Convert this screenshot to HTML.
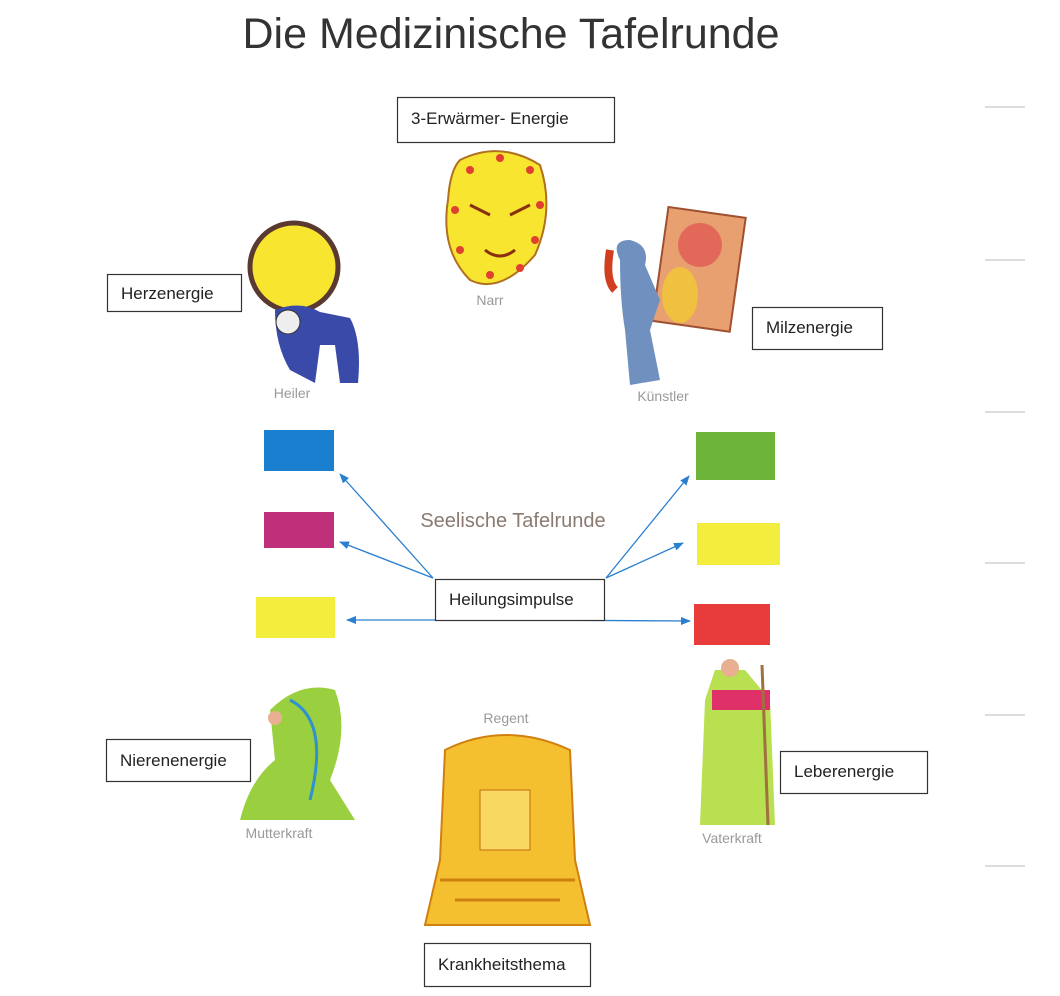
<!DOCTYPE html>
<html><head><meta charset="utf-8"><style>
body{margin:0;background:#fff;}
svg{display:block}
</style></head><body>
<svg width="1060" height="996" viewBox="0 0 1060 996" xmlns="http://www.w3.org/2000/svg" font-family="Liberation Sans, sans-serif">
<rect width="1060" height="996" fill="#fff"/>
<text x="511" y="48" text-anchor="middle" font-size="43" fill="#333">Die Medizinische Tafelrunde</text>
<g stroke="#bbb" stroke-width="1">
<line x1="985" y1="107" x2="1025" y2="107"/><line x1="985" y1="260" x2="1025" y2="260"/>
<line x1="985" y1="412" x2="1025" y2="412"/><line x1="985" y1="563" x2="1025" y2="563"/>
<line x1="985" y1="715" x2="1025" y2="715"/><line x1="985" y1="866" x2="1025" y2="866"/>
</g>
<!-- Narr mask -->
<path d="M460 160 Q500 140 540 165 Q555 210 535 255 Q500 295 470 280 Q440 250 448 200 Q450 170 460 160Z" fill="#f7e530" stroke="#b07020" stroke-width="2"/>
<g fill="#e04030"><circle cx="470" cy="170" r="4"/><circle cx="500" cy="158" r="4"/><circle cx="530" cy="170" r="4"/><circle cx="540" cy="205" r="4"/><circle cx="535" cy="240" r="4"/><circle cx="455" cy="210" r="4"/><circle cx="460" cy="250" r="4"/><circle cx="490" cy="275" r="4"/><circle cx="520" cy="268" r="4"/></g>
<path d="M470 205 L490 215 M510 215 L530 205 M485 250 Q500 262 515 250" stroke="#8a3010" stroke-width="3" fill="none"/>
<text x="490" y="305" text-anchor="middle" font-size="14" fill="#999">Narr</text>
<!-- Heiler -->
<circle cx="294" cy="267" r="44" fill="#f7e530" stroke="#5a3a30" stroke-width="5"/>
<path d="M275 310 Q300 300 320 312 L350 318 Q362 340 358 383 L340 383 L335 345 L320 345 L315 383 L290 370 Q275 345 275 310Z" fill="#3a4aa8"/>
<circle cx="288" cy="322" r="12" fill="#eee" stroke="#333"/>
<text x="292" y="398" text-anchor="middle" font-size="14" fill="#999">Heiler</text>
<!-- Künstler -->
<rect x="660" y="212" width="78" height="115" fill="#e8a070" stroke="#a05030" stroke-width="2" transform="rotate(8 700 270)"/>
<circle cx="700" cy="245" r="22" fill="#e05050" opacity="0.7"/>
<ellipse cx="680" cy="295" rx="18" ry="28" fill="#f0c040"/>
<path d="M620 260 Q610 240 630 240 Q650 245 645 265 L660 300 L650 330 L660 380 L630 385 L625 330 Q620 300 620 260Z" fill="#7090c0"/>
<path d="M610 250 Q605 280 615 290" stroke="#d04020" stroke-width="8" fill="none"/>
<text x="663" y="401" text-anchor="middle" font-size="14" fill="#999">Künstler</text>
<!-- color rects -->
<rect x="264" y="430" width="70" height="41" fill="#1b7fd0"/>
<rect x="264" y="512" width="70" height="36" fill="#c0307a"/>
<rect x="256" y="597" width="79" height="41" fill="#f3ee3e"/>
<rect x="696" y="432" width="79" height="48" fill="#6cb43a"/>
<rect x="697" y="523" width="83" height="42" fill="#f3ee3e"/>
<rect x="694" y="604" width="76" height="41" fill="#e83c3c"/>
<text x="513" y="527" text-anchor="middle" font-size="20" fill="#8a7a70">Seelische Tafelrunde</text>
<!-- arrows -->
<defs><marker id="a" markerWidth="10" markerHeight="10" refX="9" refY="5" orient="auto" markerUnits="userSpaceOnUse"><path d="M0 1 L10 5 L0 9Z" fill="#2a7fd0"/></marker></defs>
<g stroke="#2a7fd0" stroke-width="1.3" fill="none">
<line x1="433" y1="578" x2="340" y2="474" marker-end="url(#a)"/>
<line x1="433" y1="578" x2="340" y2="542" marker-end="url(#a)"/>
<line x1="606" y1="578" x2="689" y2="476" marker-end="url(#a)"/>
<line x1="606" y1="578" x2="683" y2="543" marker-end="url(#a)"/>
<line x1="520" y1="620" x2="347" y2="620" marker-end="url(#a)"/>
<line x1="520" y1="620" x2="690" y2="621" marker-end="url(#a)"/>
</g>
<!-- Mutterkraft -->
<path d="M270 710 Q300 680 335 690 Q350 730 330 780 L355 820 L240 820 Q250 780 275 760Z" fill="#9ad040"/>
<path d="M290 700 Q330 720 310 800" stroke="#3090d0" stroke-width="3" fill="none"/>
<circle cx="275" cy="718" r="7" fill="#e8b090"/>
<text x="279" y="838" text-anchor="middle" font-size="14" fill="#999">Mutterkraft</text>
<!-- Regent -->
<text x="506" y="723" text-anchor="middle" font-size="14" fill="#999">Regent</text>
<path d="M445 750 Q505 720 570 750 L575 860 L590 925 L425 925 L440 860Z" fill="#f4c030" stroke="#d08010" stroke-width="2"/>
<rect x="480" y="790" width="50" height="60" fill="#f8d860" stroke="#c07010"/>
<path d="M440 880 L575 880 M455 900 L560 900" stroke="#d08010" stroke-width="3"/>
<!-- Vaterkraft -->
<path d="M715 670 L745 670 L770 700 L775 825 L700 825 L705 700Z" fill="#b8e050"/>
<rect x="712" y="690" width="58" height="20" fill="#e0306a"/>
<circle cx="730" cy="668" r="9" fill="#e8b090"/>
<line x1="762" y1="665" x2="768" y2="825" stroke="#a07040" stroke-width="3"/>
<text x="732" y="843" text-anchor="middle" font-size="14" fill="#999">Vaterkraft</text>
<!-- boxes -->
<g fill="#fff" stroke="#333" stroke-width="1.2">
<rect x="397.5" y="97.5" width="217" height="45"/>
<rect x="107.5" y="274.5" width="134" height="37"/>
<rect x="752.5" y="307.5" width="130" height="42"/>
<rect x="435.5" y="579.5" width="169" height="41"/>
<rect x="106.5" y="739.5" width="144" height="42"/>
<rect x="780.5" y="751.5" width="147" height="42"/>
<rect x="424.5" y="943.5" width="166" height="43"/>
</g>
<g font-size="17" fill="#222">
<text x="411" y="124">3-Erwärmer- Energie</text>
<text x="121" y="299">Herzenergie</text>
<text x="766" y="333">Milzenergie</text>
<text x="449" y="605">Heilungsimpulse</text>
<text x="120" y="766">Nierenenergie</text>
<text x="794" y="777">Leberenergie</text>
<text x="438" y="970">Krankheitsthema</text>
</g>
</svg>
</body></html>
